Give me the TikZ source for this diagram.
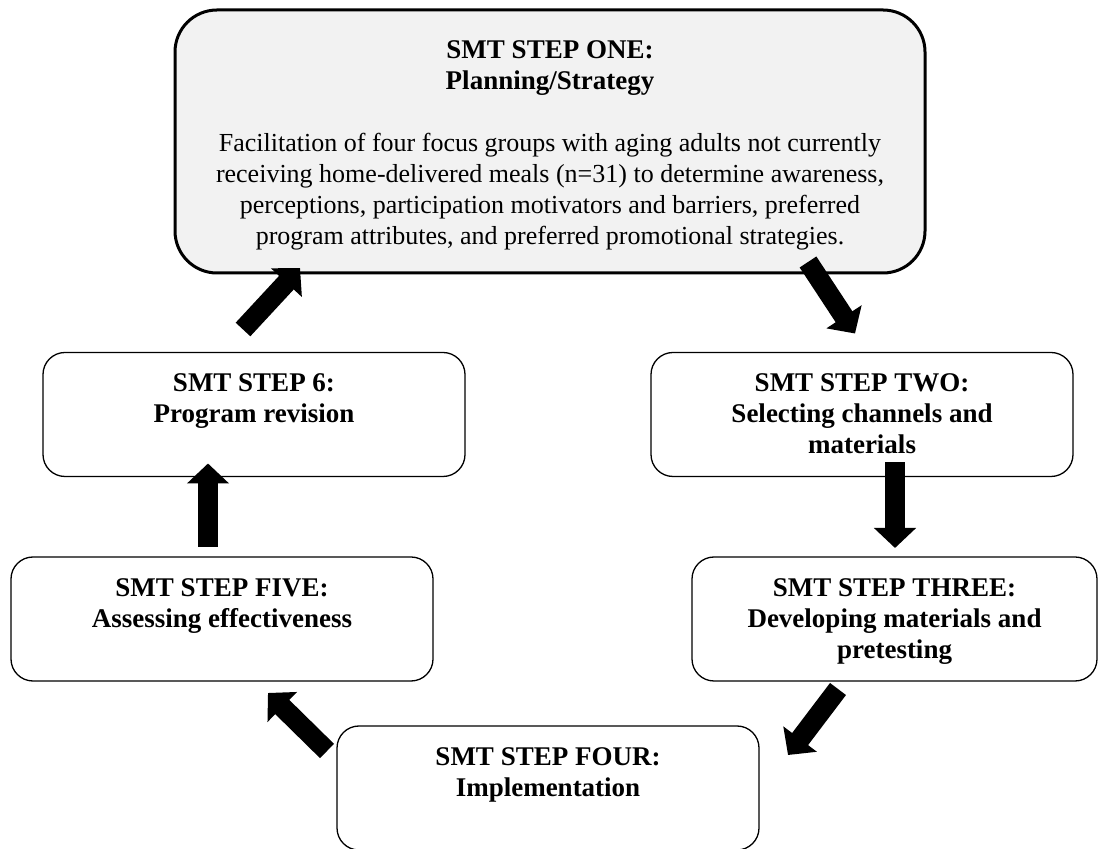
\documentclass[tikz,border=0pt]{standalone}
\usepackage{fontspec}
\setmainfont{Liberation Serif}
\usetikzlibrary{positioning,arrows.meta}

\newcommand{\stepfont}{\fontsize{27}{31}\selectfont\bfseries}
\newcommand{\bodyfont}{\fontsize{26}{31}\selectfont\mdseries}

\tikzset{
  stepbox/.style={draw, line width=1.3pt, outer sep=0pt, rounded corners=22pt, minimum width=422pt, minimum height=124pt},
  topbox/.style={draw, line width=3pt, outer sep=0pt, fill=black!5, rounded corners=42pt, minimum width=750pt, minimum height=263pt},
  steptext/.style={inner sep=0pt, align=center, font=\stepfont},
  bigarrow/.style={line width=20pt, -{Triangle[width=41pt,length=20pt]}}
}

\begin{document}
\begin{tikzpicture}[x=1pt, y=1pt]
\useasboundingbox (0,0) rectangle (1099,848);

% Boxes
\node[topbox] (one) at (550,706.5) {};
\node[stepbox] (six) at (254,433.5) {};
\node[stepbox] (two) at (862,433.5) {};
\node[stepbox] (five) at (222,229) {};
\node[stepbox, minimum width=405pt] (three) at (894.5,229) {};
\node[stepbox] (four) at (548,60) {};

% Texts
\node[steptext, below=30pt of one.north] (one-t) {SMT STEP ONE:\\Planning/Strategy\\[31pt]
  {\bodyfont Facilitation of four focus groups with aging adults not currently}\\
  {\bodyfont receiving home-delivered meals (n=31) to determine awareness,}\\
  {\bodyfont perceptions, participation motivators and barriers, preferred}\\
  {\bodyfont program attributes, and preferred promotional strategies.}};
\node[steptext, below=21pt of six.north] (six-t) {SMT STEP 6:\\Program revision};
\node[steptext, below=21pt of two.north] (two-t) {SMT STEP TWO:\\Selecting channels and\\materials};
\node[steptext, below=21pt of five.north] (five-t) {SMT STEP FIVE:\\Assessing effectiveness};
\node[steptext, below=21pt of three.north] (three-t) {SMT STEP THREE:\\Developing materials and\\pretesting};
\node[steptext, below=21pt of four.north] (four-t) {SMT STEP FOUR:\\Implementation};

% Arrows
\draw[bigarrow] ([shift={(-11,23)}]six.north) -- ([shift={(125,5)}]one.south west);
\draw[bigarrow] ([shift={(-117,11)}]one.south east) -- ([shift={(-7,19)}]two.north);
\draw[bigarrow] ([shift={(33,14)}]two.south) -- ([shift={(0.5,9)}]three.north);
\draw[bigarrow] ([shift={(-56.5,-8)}]three.south) -- ([shift={(29,-29)}]four.north east);
\draw[bigarrow] ([shift={(-10,-25)}]four.north west) -- ([shift={(46,-12)}]five.south);
\draw[bigarrow] ([shift={(-14,10)}]five.north) -- ([shift={(-46,13)}]six.south);

\end{tikzpicture}
\end{document}
